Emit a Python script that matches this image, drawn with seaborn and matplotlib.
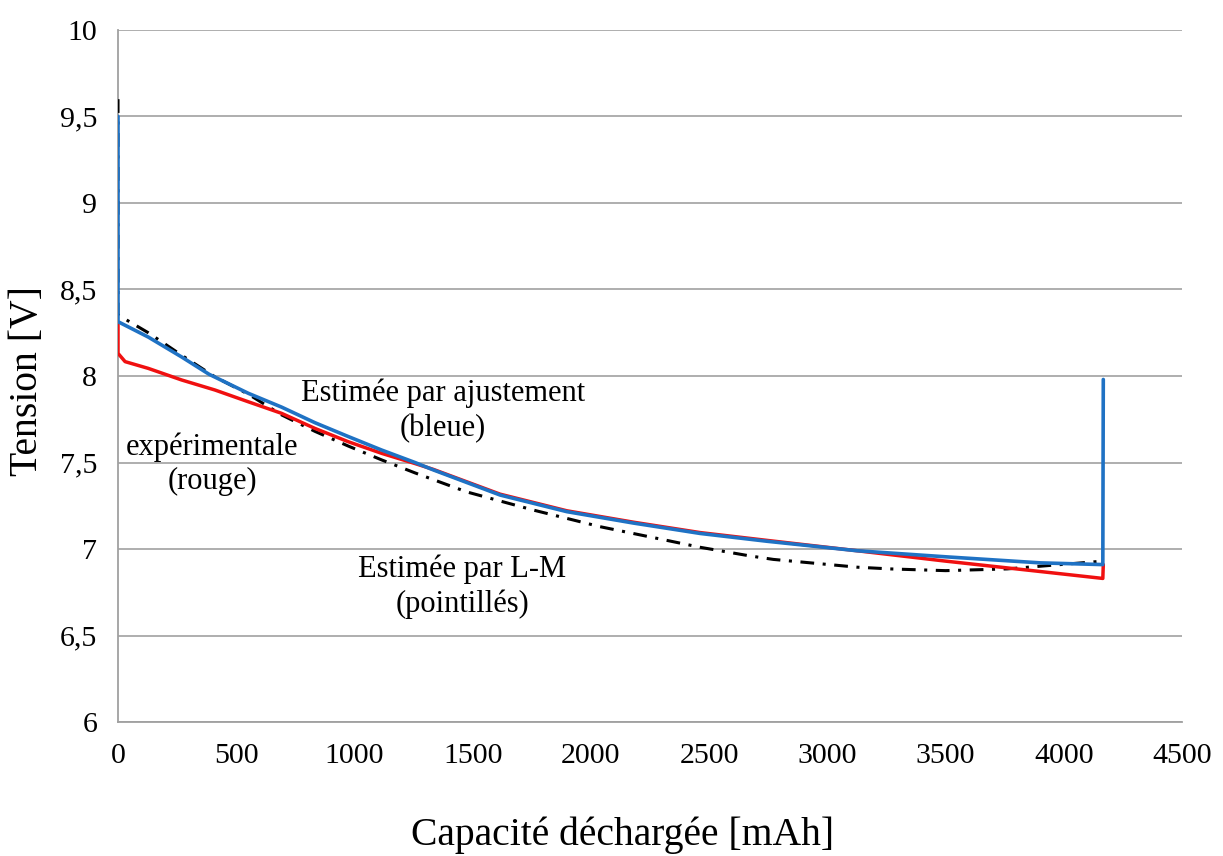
import matplotlib
matplotlib.use("Agg")
import matplotlib.pyplot as plt
import seaborn as sns

# capacity (mAh) / voltage (V)
red_x = [0, 0, 30, 128, 269, 410, 551, 692, 833, 974, 1115, 1256, 1334, 1616, 1898,
         2180, 2462, 2744, 3126, 3500, 3900, 4165, 4167]
red_y = [8.30, 8.131, 8.083, 8.044, 7.977, 7.919, 7.851, 7.784, 7.697, 7.62, 7.553, 7.494, 7.46,
         7.317, 7.221, 7.155, 7.095, 7.05, 6.99, 6.93, 6.87, 6.83, 6.91]

blue_x = [0, 0, 128, 269, 385, 551, 692, 833, 974, 1115, 1256, 1334, 1616, 1898,
          2180, 2462, 2744, 3126, 3500, 3900, 4165, 4167]
blue_y = [9.5, 8.314, 8.225, 8.11, 8.01, 7.90, 7.82, 7.73, 7.65, 7.572, 7.50, 7.457, 7.312,
          7.216, 7.15, 7.09, 7.045, 6.99, 6.955, 6.92, 6.91, 7.98]

black_x = [0, 0, 128, 269, 410, 551, 692, 833, 974, 1115, 1256, 1475, 1757, 2039,
           2321, 2462, 2673, 2771, 3126, 3266, 3500, 3760, 4165]
black_y = [9.6, 8.353, 8.25, 8.12, 7.995, 7.895, 7.775, 7.68, 7.595, 7.515, 7.44, 7.33, 7.225,
           7.129, 7.05, 7.01, 6.96, 6.94, 6.895, 6.885, 6.875, 6.885, 6.93]

x_ticks = [0, 500, 1000, 1500, 2000, 2500, 3000, 3500, 4000, 4500]
y_ticks = [6, 6.5, 7, 7.5, 8, 8.5, 9, 9.5, 10]
y_labels = ["6", "6,5", "7", "7,5", "8", "8,5", "9", "9,5", "10"]

sns.set_style("white")
plt.rcParams["font.family"] = ["Liberation Serif", "DejaVu Serif"]
plt.rcParams["text.color"] = "black"
plt.rcParams["axes.labelcolor"] = "black"
plt.rcParams["xtick.color"] = "black"
plt.rcParams["ytick.color"] = "black"

fig, ax = plt.subplots(figsize=(12.23, 8.56), dpi=100)
fig.subplots_adjust(left=0.0965, right=0.9665, bottom=0.1565, top=0.965)

sns.lineplot(x=black_x, y=black_y, sort=False, estimator=None, color="black",
             linewidth=2.2, linestyle=(0, (4.5, 2.8, 1.0, 2.8)), ax=ax, zorder=3)
sns.lineplot(x=red_x, y=red_y, sort=False, estimator=None, color="#f01010",
             linewidth=2.5, ax=ax, zorder=4)
sns.lineplot(x=blue_x, y=blue_y, sort=False, estimator=None, color="#1f72c4",
             linewidth=2.6, ax=ax, zorder=5)

ax.set_xlim(0, 4500)
ax.set_ylim(6, 10)
ax.set_xticks(x_ticks)
ax.set_yticks(y_ticks)
ax.set_yticklabels(y_labels)
ax.tick_params(axis="both", labelsize=21.5, length=7, color="#a0a0a0", width=1.2, pad=8)
ax.yaxis.grid(True, color="#a8a8a8", linewidth=1.3)
ax.set_axisbelow(True)
for side in ["top", "right"]:
    ax.spines[side].set_visible(False)
for side in ["left", "bottom"]:
    ax.spines[side].set_color("#a0a0a0")
    ax.spines[side].set_linewidth(1.3)

ax.set_xlabel("Capacité déchargée [mAh]", fontsize=28.5)
ax.set_ylabel("Tension [V]", fontsize=28.5)
ax.xaxis.set_label_coords(0.474, -0.163)
ax.xaxis.label.set_va("center")
ax.yaxis.set_label_coords(-0.085, 0.493)
ax.yaxis.label.set_va("center")

ax.text(1375, 7.80, "Estimée par ajustement\n(bleue)", ha="center", va="center",
        fontsize=22, linespacing=1.25)
ax.text(398, 7.49, "expérimentale\n(rouge)", ha="center", va="center",
        fontsize=22, linespacing=1.25)
ax.text(1455, 6.78, "Estimée par L-M\n(pointillés)", ha="center", va="center",
        fontsize=22, linespacing=1.25)

fig.savefig("out.png", dpi=100)
